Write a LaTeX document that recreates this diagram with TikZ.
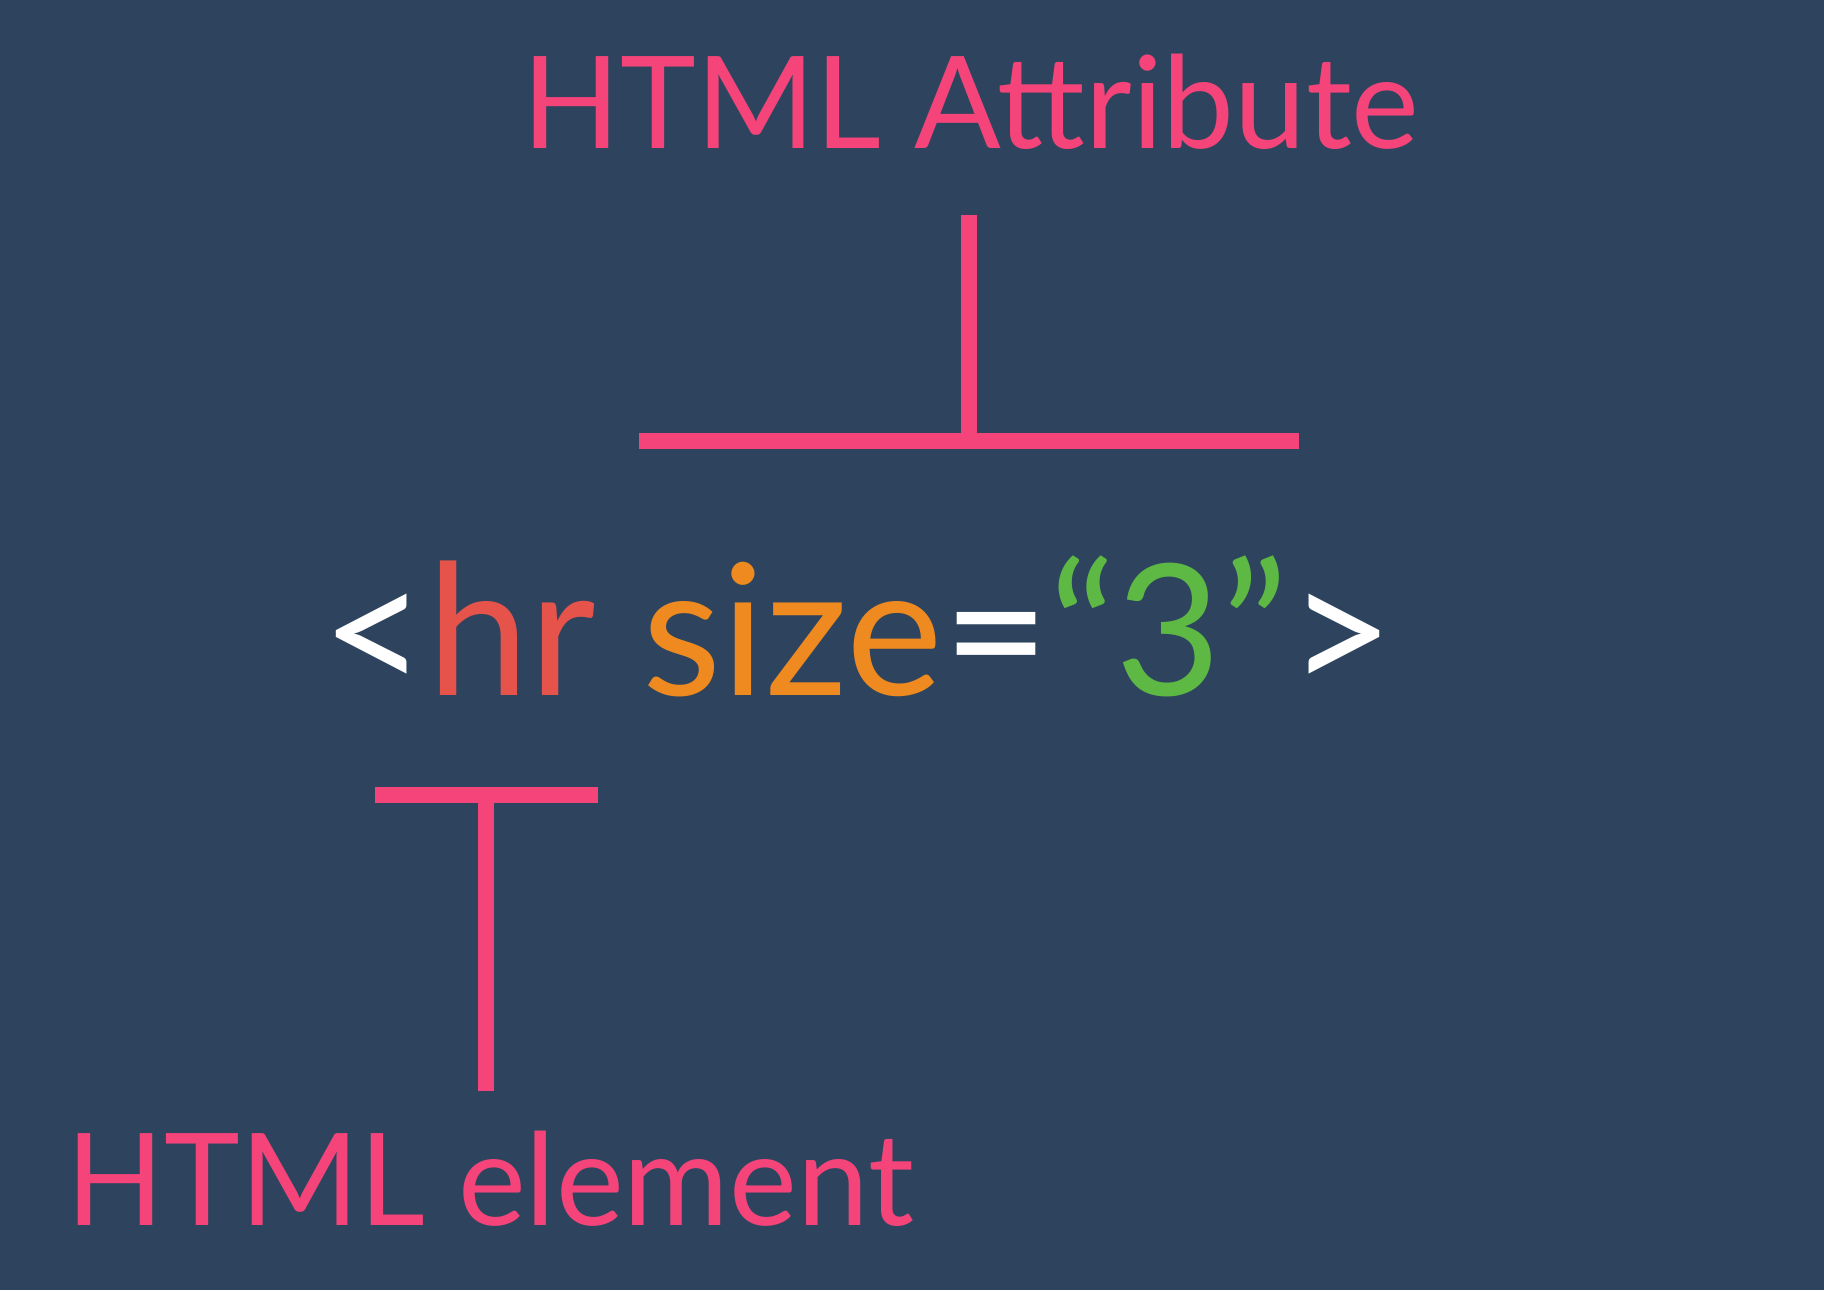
\documentclass[tikz,border=0pt]{standalone}
\usepackage{fontspec}
\setmainfont{Lato}
\usepackage{tikz}
\usepackage{tkz-euclide}
\usepackage{xcolor}

\definecolor{bgblue}{HTML}{2E445E}
\definecolor{tagpink}{HTML}{F5447A}
\definecolor{hrred}{HTML}{E5534B}
\definecolor{sizeorange}{HTML}{EE8A1F}
\definecolor{valgreen}{HTML}{5DB944}

\tikzset{
  barline/.style = {tagpink, line width=4.6pt, line cap=butt},
  tagtext/.style = {tagpink, inner sep=0pt, anchor=base, font=\fontsize{36.5}{42}\selectfont},
  codetext/.style = {white, inner sep=0pt, anchor=base, font=\fontsize{52}{58}\selectfont}
}

\begin{document}
\begin{tikzpicture}
            \fill[bgblue] (0,0) rectangle (18.24,12.90);
            \useasboundingbox (0,0) rectangle (18.24,12.90);
            \tkzDefPoints{9.69/10.75/At, 9.69/8.49/Am, 6.39/8.49/Al, 12.99/8.49/Ar}
            \tkzDefPoints{4.86/4.95/Em, 3.75/4.95/El, 5.98/4.95/Er, 4.86/1.99/Eb}
            \node[tagtext] (attr) at (9.71,11.41) {HTML Attribute};
            \node[codetext] (code) at (8.58,5.94) {<{\color{hrred}hr} {\color{sizeorange}size}={\color{valgreen}“3”}>};
            \node[tagtext] (elem) at (4.90,0.65) {HTML element};
            \tkzDrawSegments[barline](At,Am Al,Ar)
            \tkzDrawSegments[barline](El,Er Em,Eb)
        \end{tikzpicture}
\end{document}
